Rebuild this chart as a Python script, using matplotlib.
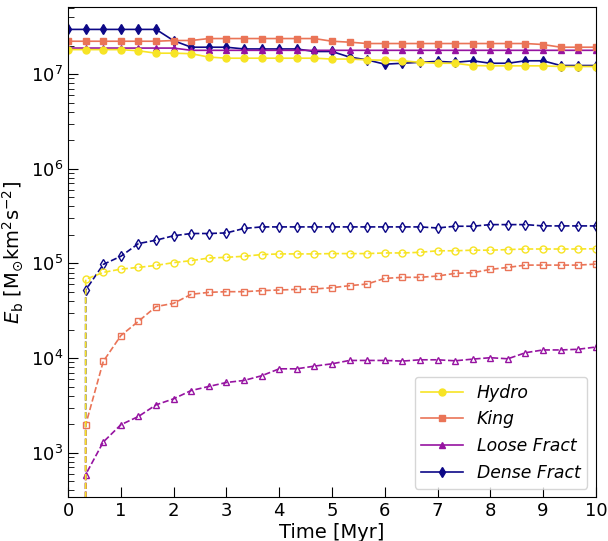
import numpy as np
import matplotlib
matplotlib.use('Agg')
import matplotlib.pyplot as plt

# time grid, snapshots every 1/3 Myr
time = np.linspace(0, 10, 31)

# solid lines: total binding energy (M_sun km^2 s^-2)
hydro_tot = [1.81e7, 1.81e7, 1.81e7, 1.81e7, 1.76e7, 1.66e7, 1.66e7, 1.64e7, 1.51e7, 1.47e7,
             1.47e7, 1.47e7, 1.47e7, 1.47e7, 1.47e7, 1.44e7, 1.44e7, 1.41e7, 1.40e7, 1.38e7,
             1.33e7, 1.30e7, 1.30e7, 1.23e7, 1.22e7, 1.22e7, 1.22e7, 1.22e7, 1.20e7, 1.20e7, 1.20e7]
king_tot = [2.22e7, 2.22e7, 2.22e7, 2.22e7, 2.22e7, 2.22e7, 2.26e7, 2.26e7, 2.37e7, 2.37e7,
            2.37e7, 2.37e7, 2.37e7, 2.37e7, 2.37e7, 2.22e7, 2.17e7, 2.10e7, 2.10e7, 2.10e7,
            2.10e7, 2.10e7, 2.10e7, 2.10e7, 2.10e7, 2.10e7, 2.10e7, 2.05e7, 1.92e7, 1.92e7, 1.92e7]
loose_tot = [1.88e7, 1.88e7, 1.88e7, 1.88e7, 1.88e7, 1.88e7, 1.88e7, 1.78e7, 1.78e7, 1.78e7,
             1.78e7, 1.78e7, 1.78e7, 1.78e7, 1.78e7, 1.78e7, 1.78e7, 1.78e7, 1.78e7, 1.78e7,
             1.78e7, 1.78e7, 1.78e7, 1.78e7, 1.78e7, 1.78e7, 1.78e7, 1.78e7, 1.78e7, 1.78e7, 1.78e7]
dense_tot = [2.96e7, 2.96e7, 2.96e7, 2.96e7, 2.96e7, 2.96e7, 2.25e7, 1.92e7, 1.92e7, 1.92e7,
             1.84e7, 1.84e7, 1.84e7, 1.84e7, 1.73e7, 1.73e7, 1.51e7, 1.41e7, 1.27e7, 1.30e7,
             1.33e7, 1.36e7, 1.33e7, 1.38e7, 1.30e7, 1.30e7, 1.38e7, 1.38e7, 1.23e7, 1.23e7, 1.23e7]

# dashed lines: bound fraction that forms later (zero at t=0)
hydro_new = [0, 6.79e4, 8.04e4, 8.71e4, 9.08e4, 9.53e4, 1.02e5, 1.07e5, 1.14e5, 1.16e5,
             1.19e5, 1.24e5, 1.26e5, 1.26e5, 1.26e5, 1.27e5, 1.27e5, 1.27e5, 1.29e5, 1.29e5,
             1.31e5, 1.36e5, 1.36e5, 1.38e5, 1.38e5, 1.40e5, 1.42e5, 1.42e5, 1.42e5, 1.42e5, 1.43e5]
king_new = [0, 1.98e3, 9.23e3, 1.73e4, 2.45e4, 3.50e4, 3.79e4, 4.72e4, 4.95e4, 5.03e4,
            5.03e4, 5.16e4, 5.24e4, 5.32e4, 5.37e4, 5.54e4, 5.82e4, 6.06e4, 6.95e4, 7.13e4,
            7.13e4, 7.36e4, 7.85e4, 7.97e4, 8.65e4, 9.08e4, 9.60e4, 9.60e4, 9.60e4, 9.60e4, 9.84e4]
loose_new = [0, 5.90e2, 1.30e3, 1.98e3, 2.42e3, 3.21e3, 3.72e3, 4.55e3, 5.02e3, 5.53e3,
             5.81e3, 6.51e3, 7.71e3, 7.71e3, 8.23e3, 8.71e3, 9.45e3, 9.45e3, 9.45e3, 9.30e3,
             9.60e3, 9.60e3, 9.37e3, 9.76e3, 1.01e4, 9.84e3, 1.14e4, 1.22e4, 1.22e4, 1.24e4, 1.31e4]
dense_new = [0, 5.24e4, 9.76e4, 1.19e5, 1.62e5, 1.76e5, 1.96e5, 2.07e5, 2.07e5, 2.10e5,
             2.34e5, 2.43e5, 2.43e5, 2.43e5, 2.43e5, 2.43e5, 2.43e5, 2.43e5, 2.43e5, 2.43e5,
             2.43e5, 2.37e5, 2.47e5, 2.47e5, 2.57e5, 2.57e5, 2.57e5, 2.49e5, 2.49e5, 2.49e5, 2.49e5]

labels = ['Hydro', 'King', 'Loose Fract', 'Dense Fract']
markers = ['o', 's', '^', 'd']
colors = plt.cm.plasma([0.95, 0.65, 0.32, 0.0])
totals = [hydro_tot, king_tot, loose_tot, dense_tot]
news = [hydro_new, king_new, loose_new, dense_new]

fig = plt.figure(figsize=(6.08, 5.41), dpi=100)
ax = fig.add_axes([0.112, 0.081, 0.868, 0.906])

# draw Dense first so Hydro ends up on top
handles = []
for lab, m, c, tot, new in list(zip(labels, markers, colors, totals, news))[::-1]:
    h, = ax.plot(time, tot, color=c, marker=m, ms=5, lw=1.2, label=lab)
    ax.plot(time, new, color=c, marker=m, ms=5, lw=1.2, ls='--', mfc='none')
    handles.append(h)
handles = handles[::-1]

ax.set_yscale('log')
ax.set_xlim(0, 10)
ax.set_ylim(3.4e2, 5.1e7)
ax.set_xticks(range(0, 11))
ax.tick_params(which='both', direction='in', labelsize=13)
ax.tick_params(which='major', length=7)
ax.tick_params(which='minor', length=4)
ax.set_xlabel('Time [Myr]', fontsize=14, labelpad=2)
ax.set_ylabel(r'$E_{\rm b}\ [{\rm M}_{\odot}{\rm km}^2{\rm s}^{-2}]$', fontsize=14)
ax.legend(handles=handles, loc='lower right', prop={'size': 12.4, 'style': 'italic'},
          handlelength=2.4)

fig.savefig('out.png', dpi=100)
